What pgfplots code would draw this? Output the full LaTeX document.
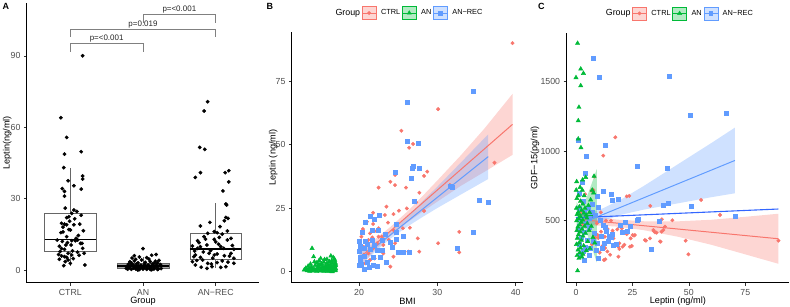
\documentclass[border=0pt]{standalone}
\usepackage{fontspec}
\setmainfont{Liberation Sans}
\usepackage{pgfplots}
\pgfplotsset{compat=1.18}
\usepgfplotslibrary{statistics}
\definecolor{ctrl}{HTML}{F8766D}
\definecolor{an}{HTML}{00BA38}
\definecolor{anrec}{HTML}{619CFF}
\definecolor{ovr}{HTML}{3366FF}
\definecolor{tickgray}{HTML}{4D4D4D}
\pgfplotsset{
  gg/.style={scale only axis, axis lines=left,
    axis line style={-, black, line width=0.6bp},
    x axis line style={-}, y axis line style={-},
    tick align=outside, major tick length=2.8bp,
    tick style={black!80, line width=0.5bp},
    ticklabel style={font=\fontsize{8.8}{10}\selectfont, text=tickgray},
    /pgf/number format/assume math mode=true,
    /pgf/number format/1000 sep={}, scaled ticks=false,
    label style={font=\fontsize{9.2}{10}\selectfont},
    xlabel style={at={(axis description cs:0.5,0)}, anchor=center, yshift=-18.5bp}},
  gglegend/.style={legend style={at={(0.5,1.077)}, anchor=center, draw=none, fill=none,
    legend columns=-1, font=\fontsize{7.4}{8}\selectfont,
    nodes={inner xsep=1.5bp, inner ysep=0pt},
    /tikz/every odd column/.append style={column sep=3bp}}},
  ctrlpts/.style={only marks, mark=*, mark size=1.75bp, ctrl, forget plot},
  anpts/.style={only marks, mark=triangle*, mark size=2.5bp, an, forget plot},
  anrecpts/.style={only marks, mark=square*, mark size=2.0bp, anrec, forget plot},
  band/.style={fill=#1, fill opacity=0.3, draw=none, forget plot},
  fitline/.style={#1, line width=1bp, forget plot},
  ggbox/.style={draw=black!60, line width=0.5bp, solid, forget plot},
}
\newcommand{\gglegendentries}{%
  \addlegendimage{empty legend}\addlegendentry{\fontsize{8.9}{10}\selectfont Group}
  \addlegendimage{legend image code/.code={%
    \fill[ctrl, fill opacity=0.3] (0bp,-6.5bp) rectangle (14bp,6.5bp);
    \draw[ctrl, line width=0.9bp] (0bp,0bp) -- (14bp,0bp);
    \fill[ctrl] (7bp,0bp) circle (1.7bp);}}
  \addlegendentry{CTRL}
  \addlegendimage{legend image code/.code={%
    \fill[an, fill opacity=0.3] (0bp,-6.5bp) rectangle (14bp,6.5bp);
    \draw[an, line width=0.9bp] (0bp,0bp) -- (14bp,0bp);
    \fill[an] (7bp,2.4bp) -- (9.1bp,-1.2bp) -- (4.9bp,-1.2bp) -- cycle;}}
  \addlegendentry{AN}
  \addlegendimage{legend image code/.code={%
    \fill[anrec, fill opacity=0.3] (0bp,-6.5bp) rectangle (14bp,6.5bp);
    \draw[anrec, line width=0.9bp] (0bp,0bp) -- (14bp,0bp);
    \fill[anrec] (5.1bp,-1.9bp) rectangle (8.9bp,1.9bp);}}
  \addlegendentry{AN−REC}
}
\begin{document}
\begin{tikzpicture}
\path[use as bounding box] (0,0) rectangle (790bp,-307bp);
\node[anchor=north west, inner sep=0pt, font=\bfseries\fontsize{9}{10}\selectfont] at (2.5bp,-3.5bp) {A};
\node[anchor=north west, inner sep=0pt, font=\bfseries\fontsize{9}{10}\selectfont] at (266.5bp,-3.5bp) {B};
\node[anchor=north west, inner sep=0pt, font=\bfseries\fontsize{9}{10}\selectfont] at (538bp,-3.5bp) {C};

% ---------------- Panel A ----------------
\begin{axis}[gg, at={(26.7bp,-282.7bp)}, anchor=south west, width=232.6bp, height=280bp,
  xmin=0.4, xmax=3.6, ymin=-5.34, ymax=112.3,
  xtick={1,2,3}, xticklabels={CTRL,AN,AN−REC}, ytick={0,30,60,90},
  xlabel={Group}, ylabel={Leptin(ng/ml)},
  ylabel style={at={(axis description cs:0,0.5)}, anchor=center, yshift=19.5bp}]
\addplot[ggbox, fill=white, boxplot prepared={draw direction=y, draw position=1, lower whisker=1.8, lower quartile=7.7, median=12.9,
  upper quartile=23.8, upper whisker=42.7, box extend=0.71, whisker extend=0,
  every median/.style={black, line width=1.3bp}}] coordinates {};
\addplot[ggbox, fill=black!35, boxplot prepared={draw direction=y, draw position=2, lower whisker=0.0, lower quartile=0.7, median=1.7,
  upper quartile=2.8, upper whisker=5.6, box extend=0.71, whisker extend=0,
  every median/.style={black, line width=1.3bp}}] coordinates {};
\addplot[ggbox, fill=white, boxplot prepared={draw direction=y, draw position=3, lower whisker=0.7, lower quartile=4.5, median=8.8,
  upper quartile=15.4, upper whisker=28.0, box extend=0.71, whisker extend=0,
  every median/.style={black, line width=1.3bp}}] coordinates {};
% CTRL points
\addplot[only marks, mark=*, mark size=1.7bp, black] coordinates {
(1.17,90.0)(0.87,64.0)(0.95,55.7)(0.92,48.7)(1.15,49.7)(0.91,43.0)(0.97,37.5)(1.17,39.5)(1.17,38.2)
(0.89,34.2)(0.92,33.0)(1.15,34.0)(1.05,35.4)(0.92,31.0)(1.05,25.2)(1.09,24.6)(1.02,23.8)(0.95,22.0)
(0.98,22.4)(1.15,23.0)(0.88,19.6)(0.92,19.3)(0.95,19.0)(1.05,19.0)(1.13,19.3)(0.98,17.0)(1.00,16.8)
(0.90,16.0)(0.87,15.7)(0.82,12.6)(1.08,13.3)(1.10,12.6)(1.07,12.3)(1.02,12.3)(0.95,14.0)(0.94,10.5)
(0.88,9.0)(0.92,8.7)(1.01,10.5)(1.14,11.2)(0.88,5.9)(0.92,5.6)(0.95,5.3)(0.85,4.5)(0.97,4.2)(1.00,2.8)
(0.91,1.8)(1.20,2.1)(0.97,7.0)(1.02,6.3)(1.16,11.2)(1.17,9.1)(0.84,6.5)(0.86,7.8)(1.10,7.5)(1.12,6.2)
(0.93,3.5)(1.04,4.8)(0.99,20.5)(1.06,21.5)(0.90,18.0)(1.18,16.5)(0.96,11.5)(1.11,14.5)(0.85,10.0)
(1.03,8.0)(0.89,12.0)(1.19,7.0)(0.93,26.0)};
% AN points
\addplot[only marks, mark=*, mark size=1.7bp, black] coordinates {
(2.00,9.0)(1.95,5.5)(2.12,6.2)(2.18,6.5)(1.85,5.0)(1.90,4.5)(2.05,5.2)(2.22,4.0)(1.82,3.5)(1.88,3.8)
(1.93,3.0)(2.03,3.2)(2.10,3.5)(2.15,2.8)(2.20,3.0)(1.80,2.5)(1.86,2.2)(1.91,2.6)(1.97,2.0)(2.02,2.4)
(2.07,2.1)(2.13,2.5)(2.18,2.0)(2.24,2.3)(1.78,1.5)(1.83,1.8)(1.89,1.4)(1.94,1.7)(1.99,1.2)(2.04,1.6)
(2.09,1.3)(2.14,1.7)(2.19,1.4)(2.23,1.8)(1.81,1.0)(1.87,0.8)(1.92,1.1)(1.96,0.7)(2.01,0.9)(2.06,0.6)
(2.11,1.0)(2.16,0.8)(2.21,0.5)(1.79,0.4)(1.84,0.3)(1.90,0.5)(1.95,0.2)(2.00,0.4)(2.05,0.3)(2.10,0.2)
(2.15,0.4)(2.20,0.2)(2.25,0.6)(1.77,0.7)(1.98,4.2)(2.08,4.6)(1.84,2.9)(2.17,3.7)(1.93,0.0)(2.12,0.1)
(1.88,6.0)};
% AN-REC points
\addplot[only marks, mark=*, mark size=1.7bp, black] coordinates {
(2.89,70.7)(2.84,66.8)(2.78,51.5)(2.85,50.7)(2.72,38.9)(2.79,40.9)(3.18,41.7)(3.13,40.9)(3.18,37.0)
(3.10,33.2)(3.14,27.7)(3.15,27.3)(3.14,22.1)(3.17,21.7)(3.12,20.7)(2.79,18.5)(2.98,16.1)(3.02,15.7)
(2.89,15.4)(3.09,15.1)(3.16,16.4)(2.84,14.0)(2.75,12.3)(2.77,11.5)(2.98,12.9)(3.05,13.7)(3.16,12.6)
(3.21,13.3)(2.88,10.5)(2.68,10.1)(2.75,9.1)(2.79,9.8)(3.07,9.8)(3.11,9.1)(3.25,8.7)(2.91,7.0)(2.98,6.3)
(3.02,6.7)(2.72,6.3)(2.70,5.6)(2.79,5.3)(3.21,7.0)(3.25,4.9)(2.68,3.5)(2.89,2.8)(3.02,3.1)(2.72,2.1)
(2.95,1.4)(3.07,1.1)(3.25,2.8)(2.82,4.2)(3.14,1.4)(2.88,0.7)(2.93,8.2)(3.04,10.8)(2.83,7.6)(3.19,5.8)
(2.74,4.0)(3.09,3.8)(2.96,5.0)(3.00,11.8)(2.86,13.0)(3.23,10.3)(2.71,8.0)(3.12,6.0)(2.94,2.5)(3.06,18.2)
(2.92,20.0)(2.80,1.2)(3.17,3.3)};
% brackets
\addplot[black!50, line width=0.5bp] coordinates {(1,91.6)(1,95.1)(2,95.1)(2,91.6)};
\addplot[black!50, line width=0.5bp] coordinates {(1,98.0)(1,101.0)(3,101.0)(3,98.0)};
\addplot[black!50, line width=0.5bp] coordinates {(2,103.8)(2,107.3)(3,107.3)(3,103.8)};
\node[anchor=base, font=\fontsize{8}{9}\selectfont, text=black!85, inner sep=0pt] at (axis cs:1.5,96.3) {p=<0.001};
\node[anchor=base, font=\fontsize{8}{9}\selectfont, text=black!85, inner sep=0pt] at (axis cs:2,102.2) {p=0.019};
\node[anchor=base, font=\fontsize{8}{9}\selectfont, text=black!85, inner sep=0pt] at (axis cs:2.5,108.5) {p=<0.001};
\end{axis}

% ---------------- Panel B ----------------
\begin{axis}[gg, gglegend, at={(291.7bp,-282.7bp)}, anchor=south west, width=231.6bp, height=250.4bp,
  xmin=11.4, xmax=40.98, ymin=-4.33, ymax=94.25,
  xtick={20,30,40}, ytick={0,25,50,75},
  xlabel={BMI}, ylabel={Leptin (ng/ml)},
  ylabel style={at={(axis description cs:0,0.5)}, anchor=center, yshift=18.4bp}]
\gglegendentries
\addplot[ctrlpts] coordinates {
(39.6,90)(30.1,64)(25.4,55.5)(26.9,50.3)(26.4,48.8)(28.7,39.4)(28.3,37.7)(24.0,35.4)(24.6,34.1)
(24.6,38.1)(22.5,33.1)(26.0,33.1)(27.7,31.1)(37.3,42.9)(31.6,34.1)(27.3,27.3)(28.3,23.9)(23.5,25.6)
(21.8,23.2)(22.7,22.3)(23.3,22.3)(24.4,22.7)(25.1,24.0)(26.1,24.9)(21.0,19.7)(21.8,18.8)(23.7,19.3)
(22.5,17.1)(20.5,16.8)(24.4,16.4)(26.5,17.3)(25.6,17.1)(21.4,15.1)(22.9,13.8)(23.8,12.5)(27.5,13.1)
(32.8,15.7)(20.3,13.8)(20.9,11.8)(22.3,11.2)(23.1,10.5)(24.6,11.2)(30.1,11.2)(21.8,9.2)(22.6,8.5)
(23.1,7.2)(26.3,7.9)(27.7,7.9)(32.8,7.6)(24.4,5.9)(22.0,5.2)(20.6,6.6)(21.4,4.6)(20.8,3.3)(20.3,2.6)
(24.0,2.0)(21.2,7.2)(22.5,13.8)(21.7,13.5)(20.6,9.8)(21.2,12.5)(22.0,16.0)};
\addplot[anrecpts] coordinates {
(34.6,70.9)(26.2,66.7)(26.1,51.2)(27.6,50.5)(24.6,39.0)(26.9,41.6)(26.8,40.9)(27.7,40.7)(26.6,37.0)
(31.7,33.7)(31.9,33.2)(27.0,27.6)(35.3,28.0)(36.5,27.2)(34.6,15.5)(32.5,9.2)(21.4,21.9)(22.6,22.3)
(22.0,20.6)(20.8,19.3)(21.7,16.4)(22.5,16.4)(20.4,15.4)(24.8,18.8)(24.8,15.7)(25.7,13.8)(24.7,12.9)
(22.9,12.5)(21.7,12.5)(20.8,12.1)(20.0,12.2)(20.1,10.1)(24.2,9.8)(20.6,9.2)(21.4,8.8)(22.3,8.3)
(23.0,8.3)(20.0,7.9)(25.0,7.6)(25.7,7.6)(26.4,7.6)(20.6,6.2)(21.8,5.9)(22.7,5.6)(20.1,4.6)(21.0,3.9)
(23.5,3.9)(20.3,3.0)(21.8,2.4)(21.3,1.7)(22.3,2.2)(20.6,0.9)(20.0,2.6)(24.0,11.8)(22.0,10.5)(23.4,14.8)
(20.2,5.6)(21.1,10.8)};
\addplot[anpts] coordinates {
(14.0,9.2)(14.2,5.9)(16.4,6.2)(16.7,5.6)(15.1,5.2)(15.9,4.9)(16.9,4.5)(16.2,4.0)(15.5,3.8)(14.6,3.5)
(13.8,3.0)(16.6,3.3)(17.0,3.0)(15.0,2.8)(16.0,2.6)(14.4,2.5)(13.5,2.2)(15.7,2.3)(16.8,2.1)(14.9,2.0)
(16.3,1.9)(13.9,1.8)(15.3,1.7)(16.5,1.6)(14.7,1.5)(13.2,1.4)(15.9,1.4)(17.0,1.3)(14.1,1.2)(15.6,1.1)
(16.1,1.0)(13.6,1.0)(14.8,0.9)(16.7,0.9)(15.2,0.8)(13.0,0.7)(14.3,0.7)(15.8,0.6)(16.4,0.6)(14.5,0.5)
(13.4,0.4)(15.4,0.4)(16.9,0.4)(14.0,0.3)(15.0,0.3)(16.2,0.3)(13.7,0.2)(15.5,0.2)(16.6,0.2)(14.6,0.1)
(16.0,0.1)(17.0,0.6)(16.9,1.9)(16.8,2.7)(16.95,3.6)(16.85,5.0)(16.5,4.3)(15.6,4.8)(14.9,4.4)(15.2,3.2)
(14.3,3.9)(13.3,0.9)(16.3,2.9)(15.9,3.4)(14.8,2.7)(15.4,1.9)(16.15,1.5)(17.0,2.4)(16.75,1.2)(16.55,0.0)};
% bands
\addplot[band=ctrl] coordinates {(20.1,9.0)(22,12.7)(24,17.6)(26,23.2)(28,29.4)(30,35.9)(33,45.8)(36,56.3)(39.6,70.0)
 (39.6,46.0)(36,39.3)(33,33.8)(30,27.6)(28,23.4)(26,19.0)(24,14.0)(22,8.3)(20.1,2.0)};
\addplot[band=anrec] coordinates {(20,7.6)(22,11.33)(24,15.97)(26,21.4)(28,27.34)(30,33.47)(33,42.97)(36.5,54.1)
 (36.5,36.5)(33,30.37)(30,25.07)(28,21.34)(26,17.4)(24,12.97)(22,7.73)(20,1.6)};
\addplot[band=an] coordinates {(13,1.9)(15,1.9)(17,2.8)(17,1.2)(15,1.1)(13,0.1)};
\addplot[fitline=ctrl] coordinates {(20.1,5.5)(39.6,58.0)};
\addplot[fitline=anrec] coordinates {(20,4.6)(36.5,45.3)};
\addplot[fitline=an] coordinates {(13,1.0)(17,2.0)};
\end{axis}

% ---------------- Panel C ----------------
\begin{axis}[gg, gglegend, at={(566.4bp,-282.7bp)}, anchor=south west, width=222.9bp, height=250bp,
  xmin=-4.25, xmax=94.5, ymin=54, ymax=1852,
  xtick={0,25,50,75}, ytick={500,1000,1500},
  xlabel={Leptin (ng/ml)}, ylabel={GDF−15(pg/ml)},
  ylabel style={at={(axis description cs:0,0.5)}, anchor=center, yshift=31.4bp}]
\gglegendentries
\addplot[ctrlpts] coordinates {
(17.4,1100)(12.1,968)(22.5,675)(23.6,678)(32.9,606)(55.4,649)(63.8,541)(38.0,510)(42.7,503)(39.4,457)
(34.3,433)(35.0,416)(34.5,425)(37.2,351)(32.8,373)(31.0,356)(37.5,349)(48.6,356)(49.8,258)(89.7,356)
(21.4,327)(23.9,313)(25.1,397)(25.7,392)(18.8,313)(19.2,296)(18.8,241)(15.1,255)(12.4,217)(11.8,320)
(12.9,303)(13.9,279)(9.9,375)(10.9,390)(16.2,428)(18.3,438)(22.5,404)(13.3,500)(15.5,500)(9.6,397)
(11.1,421)(12.8,385)(14.3,361)(16.6,373)(20.3,445)(26.1,397)(24.2,373)(19.2,337)(20.7,313)(24.7,318)
(30.5,361)(35.7,414)(37.9,421)(38.7,433)(13.0,222)(8.1,817)(6.9,716)(7.7,720)(5.5,580)(4.0,690)
(2.1,640)(6.2,450)(8.5,380)(3.0,470)(7.0,330)(2.5,560)(9.2,480)(11.0,560)(10.5,270)(14.0,440)};
\addplot[anrecpts] coordinates {
(7.7,1670)(10.3,1531)(41.4,1541)(50.5,1258)(66.5,1273)(1.0,1080)(13.1,1040)(4.4,963)(26.9,891)(40.6,877)
(15.4,687)(18.8,651)(9.2,673)(12.1,711)(16.2,644)(26.9,505)(27.5,510)(36.9,493)(38.7,613)(40.9,625)
(51.0,601)(70.6,529)(33.2,294)(9.9,229)(3.5,219)(13.6,428)(15.8,380)(14.3,356)(16.5,325)(17.7,332)
(21.7,488)(22.5,428)(4.0,843)(2.8,776)(1.5,700)(3.0,640)(5.5,590)(7.0,560)(2.0,520)(8.5,540)
(10.5,500)(12.0,470)(4.5,480)(6.0,450)(1.0,440)(3.5,420)(8.0,410)(11.0,390)(2.5,380)(5.0,360)
(7.5,350)(9.5,340)(1.5,330)(4.0,310)(6.5,300)(3.0,280)(8.8,285)(2.0,260)(5.8,250)(11.5,300)
(12.5,340)(13.0,450)(14.8,390)(16.0,400)(19.5,470)(20.5,420)(24.0,460)(6.0,520)(3.8,560)(1.2,590)
(7.3,620)(9.8,600)};
\addplot[anpts] coordinates {
(0.7,1776)(2.1,1591)(3.3,1560)(0.0,1529)(2.1,1471)(1.3,1316)(1.0,1219)(1.0,1088)(2.2,1025)(0.3,781)
(2.9,793)(4.3,812)(1.0,680)(0.4,660)(2.0,640)(3.0,620)(1.5,600)(0.2,590)(4.0,590)(5.5,610)
(2.5,575)(1.0,560)(3.5,555)(0.5,545)(2.0,530)(4.5,540)(6.0,560)(1.2,515)(3.0,505)(0.3,500)
(2.3,490)(5.0,480)(1.6,470)(0.8,455)(3.8,460)(2.7,440)(0.4,430)(1.9,420)(4.2,410)(1.1,400)
(3.1,390)(0.6,375)(2.4,360)(5.2,350)(1.4,340)(0.2,330)(3.4,320)(2.0,305)(0.9,290)(4.6,285)
(1.7,270)(3.0,260)(0.5,250)(2.6,240)(1.3,230)(0.7,140)(6.5,650)(7.2,720)(8.0,820)(7.8,700)
(6.8,460)(7.5,380)(8.3,340)(6.2,300)(5.8,430)(4.8,520)(3.6,680)(2.8,720)(1.8,740)(0.1,720)};
% bands
\addplot[band=ctrl] coordinates {(2,553)(10,525.4)(18,507.8)(30,495.9)(45,495.2)(60,506.7)(75,527.9)(89.7,550)
 (89.7,190)(75,257.9)(60,326.7)(45,385.2)(30,431.9)(18,457.8)(10,465.4)(2,463)};
\addplot[band=anrec] coordinates {(0.5,528.3)(5,546.3)(12,589.8)(20,653)(30,749.5)(45,904.3)(60,1059)(70.4,1169.2)
 (70.4,697.2)(60,669)(45,624.3)(30,579.5)(20,543)(12,499.8)(5,450.3)(0.5,408.3)};
\addplot[band=an] coordinates {(0.3,633)(2,583)(4,636)(6,723.6)(9.2,870)(9.2,200)(6,353.6)(4,446)(2,503)(0.3,457)};
\addplot[fitline=ctrl] coordinates {(2,508)(89.7,370)};
\addplot[fitline=anrec] coordinates {(0.5,468.3)(70.4,933.2)};
\addplot[fitline=an] coordinates {(0.3,545)(9.2,535)};
\addplot[ovr, line width=1.1bp, forget plot] coordinates {(0,521)(89.7,584)};
\end{axis}
\end{tikzpicture}
\end{document}
